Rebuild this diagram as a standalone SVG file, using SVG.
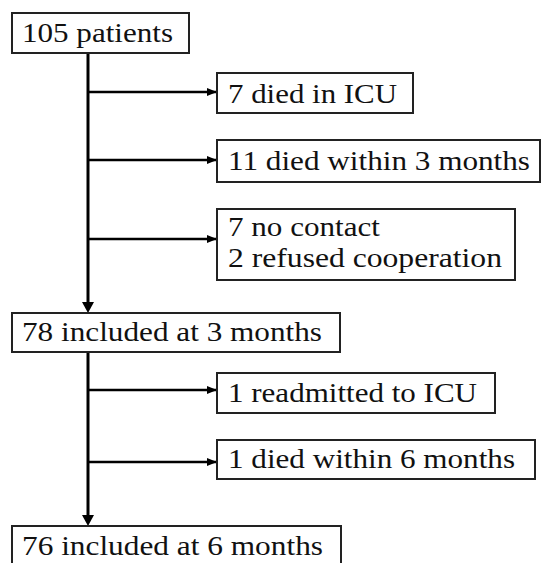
<svg xmlns="http://www.w3.org/2000/svg" width="542" height="563" viewBox="0 0 542 563">
<style>
.box{fill:#fff;stroke:#222;stroke-width:2}
.t{font-size:27px;fill:#111}
.ln{stroke:#000;stroke-width:3;fill:none}
.ar{stroke:#000;stroke-width:2.5;fill:none}
</style>
<defs>
<marker id="ah" markerWidth="10" markerHeight="8" refX="9" refY="4" orient="auto" markerUnits="userSpaceOnUse">
<path d="M0,0 L10,4 L0,8 Z" fill="#000"/>
</marker>
</defs>
<rect width="542" height="563" fill="#fff"/>
<g id="connectors">
<line class="ln" x1="88" y1="53" x2="88" y2="305"/>
<path d="M82,302 L94,302 L88,313 Z" fill="#000"/>
<line class="ln" x1="88" y1="352" x2="88" y2="519"/>
<path d="M82,515 L94,515 L88,526 Z" fill="#000"/>
<line class="ar" x1="88" y1="92" x2="216" y2="92" marker-end="url(#ah)"/>
<line class="ar" x1="88" y1="160" x2="216" y2="160" marker-end="url(#ah)"/>
<line class="ar" x1="88" y1="239" x2="216" y2="239" marker-end="url(#ah)"/>
<line class="ar" x1="88" y1="390" x2="216" y2="390" marker-end="url(#ah)"/>
<line class="ar" x1="88" y1="462" x2="216" y2="462" marker-end="url(#ah)"/>
</g>
<g id="n105">
<rect class="box" x="12" y="13" width="177" height="40"/>
<text class="t" font-family="Liberation Serif" x="22" y="42" textLength="151" lengthAdjust="spacingAndGlyphs">105 patients</text>
</g>
<g id="nICU">
<rect class="box" x="217" y="73" width="196" height="40"/>
<text class="t" font-family="Liberation Serif" x="228" y="103" textLength="169" lengthAdjust="spacingAndGlyphs">7 died in ICU</text>
</g>
<g id="n3m">
<rect class="box" x="217" y="140" width="323" height="42"/>
<text class="t" font-family="Liberation Serif" x="228" y="170" textLength="302" lengthAdjust="spacingAndGlyphs">11 died within 3 months</text>
</g>
<g id="nContact">
<rect class="box" x="217" y="209" width="298" height="71"/>
<text class="t" font-family="Liberation Serif" x="228" y="236" textLength="152" lengthAdjust="spacingAndGlyphs">7 no contact</text>
<text class="t" font-family="Liberation Serif" x="228" y="267" textLength="274" lengthAdjust="spacingAndGlyphs">2 refused cooperation</text>
</g>
<g id="n78">
<rect class="box" x="12" y="313" width="328" height="39"/>
<text class="t" font-family="Liberation Serif" x="22" y="341" textLength="300" lengthAdjust="spacingAndGlyphs">78 included at 3 months</text>
</g>
<g id="nReadmit">
<rect class="box" x="217" y="373" width="278" height="40"/>
<text class="t" font-family="Liberation Serif" x="228" y="402" textLength="249" lengthAdjust="spacingAndGlyphs">1 readmitted to ICU</text>
</g>
<g id="n6m">
<rect class="box" x="217" y="440" width="318" height="39"/>
<text class="t" font-family="Liberation Serif" x="228" y="468" textLength="287" lengthAdjust="spacingAndGlyphs">1 died within 6 months</text>
</g>
<g id="n76">
<rect class="box" x="12" y="526" width="329" height="50"/>
<text class="t" font-family="Liberation Serif" x="22" y="555" textLength="301" lengthAdjust="spacingAndGlyphs">76 included at 6 months</text>
</g>
</svg>
